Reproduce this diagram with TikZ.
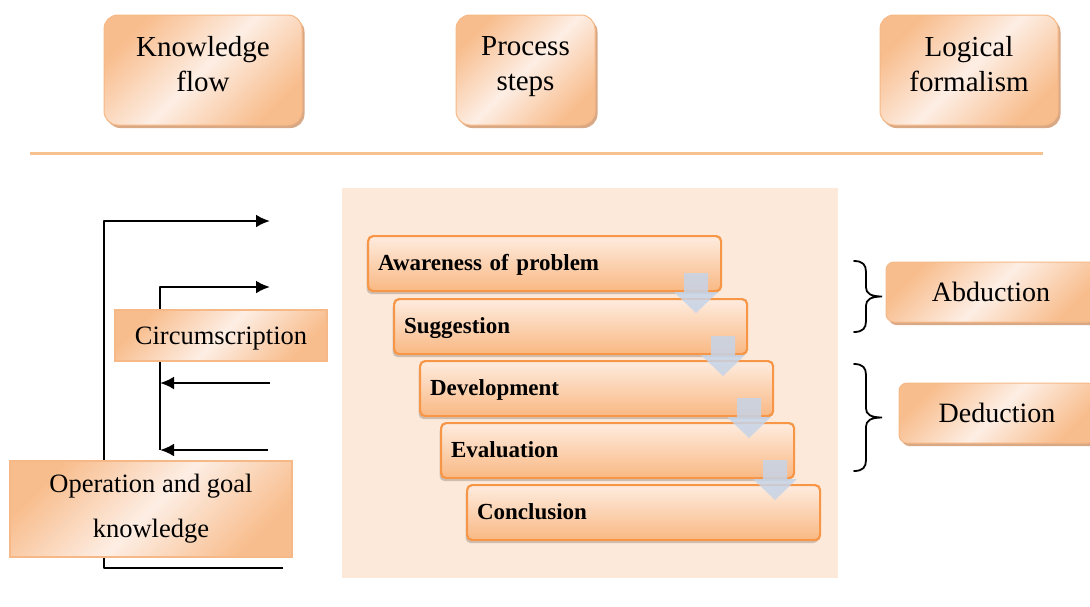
\documentclass[tikz,border=0pt]{standalone}
\usepackage{fontspec}
\setmainfont{Liberation Serif}
\usetikzlibrary{arrows.meta,shadows}

\definecolor{peachLight}{HTML}{FDEEE4}
\definecolor{peachDeep}{HTML}{F8BD8D}
\definecolor{peachEdge}{HTML}{F6B886}
\definecolor{tanShadow}{HTML}{D9A885}
\definecolor{panelFill}{HTML}{FCE9DA}
\definecolor{stepTop}{HTML}{FEECDF}
\definecolor{stepBottom}{HTML}{F9B883}
\definecolor{stepEdge}{HTML}{F79646}
\definecolor{flowArrow}{HTML}{C6D4E8}
\definecolor{ruleLine}{HTML}{F8C190}

\begin{document}
\begin{tikzpicture}[x=1pt,y=-1pt,
  softshade/.style={top color=peachDeep, bottom color=peachDeep, middle color=peachLight, shading angle=45},
  tanshadow/.style={drop shadow={fill=tanShadow, opacity=1, shadow xshift=2.5pt, shadow yshift=-3pt}},
  topbox/.style={softshade, draw=peachEdge, line width=1pt, rounded corners=14pt, tanshadow, inner sep=0pt},
  toptext/.style={font=\fontsize{29}{35}\selectfont, align=center, inner sep=0pt, anchor=north},
  sidebox/.style={softshade, draw=peachEdge, line width=1.5pt, inner sep=0pt},
  sidetext/.style={font=\fontsize{26.5}{45}\selectfont, align=center},
  logicbox/.style={softshade, draw=peachEdge, line width=1pt, rounded corners=8pt, tanshadow, inner sep=0pt,
    minimum height=60pt, font=\fontsize{28}{33}\selectfont, text height=18.5pt, text depth=0pt},
  stepbox/.style={draw=stepEdge, line width=2.2pt, rounded corners=5pt,
    top color=stepTop, bottom color=stepBottom,
    drop shadow={fill=black, opacity=0.18, shadow xshift=-1.5pt, shadow yshift=-3pt},
    text width=333pt, align=left, inner xsep=10pt, inner ysep=0pt, minimum height=55pt,
    font=\fontsize{23}{27}\selectfont\bfseries, text height=16pt, text depth=2pt, anchor=north west},
  flowarrow/.style={fill=flowArrow, fill opacity=0.85},
  flowline/.style={black, line width=2.6pt, line join=round},
  tip/.style={-{Latex[length=14pt,width=13pt]}},
  bracestyle/.style={black, line width=1.8pt, line cap=round}
]
\useasboundingbox (0,0) rectangle (1090,606);
\clip (0,0) rectangle (1090,606);

% column headings
\node[topbox, minimum width=198pt, minimum height=110pt] (kf) at (203,70) {};
\node[toptext] (kfText) at (203,36) {Knowledge\\flow};
\node[topbox, minimum width=139pt, minimum height=110pt] (ps) at (525.5,70) {};
\node[toptext] (psText) at (525.5,36) {Process\\steps};
\node[topbox, minimum width=178pt, minimum height=110pt] (lf) at (969,70) {};
\node[toptext] (lfText) at (969,36) {Logical\\formalism};

% separator rule
\coordinate (ruleL) at (30,153);
\coordinate (ruleR) at (1043,153);
\draw[ruleLine, line width=3pt] (ruleL) -- (ruleR);

% panel behind the process steps
\node[fill=panelFill, minimum width=496pt, minimum height=390pt, inner sep=0pt] (panel) at (590,383) {};

% knowledge flow loops
\coordinate (oBotEnd) at (283,568);
\coordinate (oBotCorner) at (104,568);
\coordinate (oTopCorner) at (104,221);
\coordinate (oTopEnd) at (270,221);
\draw[flowline, tip] (oBotEnd) -- (oBotCorner) -- (oTopCorner) -- (oTopEnd);

\coordinate (iBot) at (160,450);
\coordinate (iTopCorner) at (160,287);
\coordinate (iTopEnd) at (270,287);
\draw[flowline, tip] (iBot) -- (iTopCorner) -- (iTopEnd);

\coordinate (backAStart) at (270,383);
\coordinate (backAEnd) at (160,383);
\coordinate (backBStart) at (268,450);
\coordinate (backBEnd) at (160,450);
\draw[flowline, tip] (backAStart) -- (backAEnd);
\draw[flowline, tip] (backBStart) -- (backBEnd);

\node[sidebox, sidetext, minimum width=212pt, minimum height=51pt, text height=17.5pt, text depth=0pt] (circ) at (221,335.5) {Circumscription};
\node[sidebox, sidetext, minimum width=282pt, minimum height=96pt] (opk) at (151,509) {Operation and goal\\knowledge};

% process steps
\node[stepbox] (s1) at (367,235) {Awareness of problem};
\node[stepbox] (s2) at (393,298) {Suggestion};
\node[stepbox] (s3) at (419,360) {Development};
\node[stepbox] (s4) at (440,422) {Evaluation};
\node[stepbox] (s5) at (466,484) {Conclusion};

% down arrows between the steps
\foreach \ax/\ay in {696/273, 723/336, 749/398, 775/460}{
  \fill[flowarrow, shift={(\ax,\ay)}] (-12,0) -- (12,0) -- (12,19) -- (22,19) -- (0,40) -- (-22,19) -- (-12,19) -- cycle;
}

% braces grouping the steps
\foreach \ya/\yb in {261/332, 364/471}{
  \pgfmathsetmacro{\ym}{(\ya+\yb)/2}
  \draw[bracestyle] (854,\ya) .. controls (863,\ya) and (866,\ya+4) .. (866,\ya+11)
    -- (866,\ym-9) .. controls (866,\ym-3) and (871,\ym) .. (882,\ym)
    .. controls (871,\ym) and (866,\ym+3) .. (866,\ym+9)
    -- (866,\yb-11) .. controls (866,\yb-4) and (863,\yb) .. (854,\yb);
}

% reasoning modes
\node[logicbox, minimum width=210pt] (abd) at (991,292) {Abduction};
\node[logicbox, minimum width=196pt] (ded) at (997,413) {Deduction};
\end{tikzpicture}
\end{document}
